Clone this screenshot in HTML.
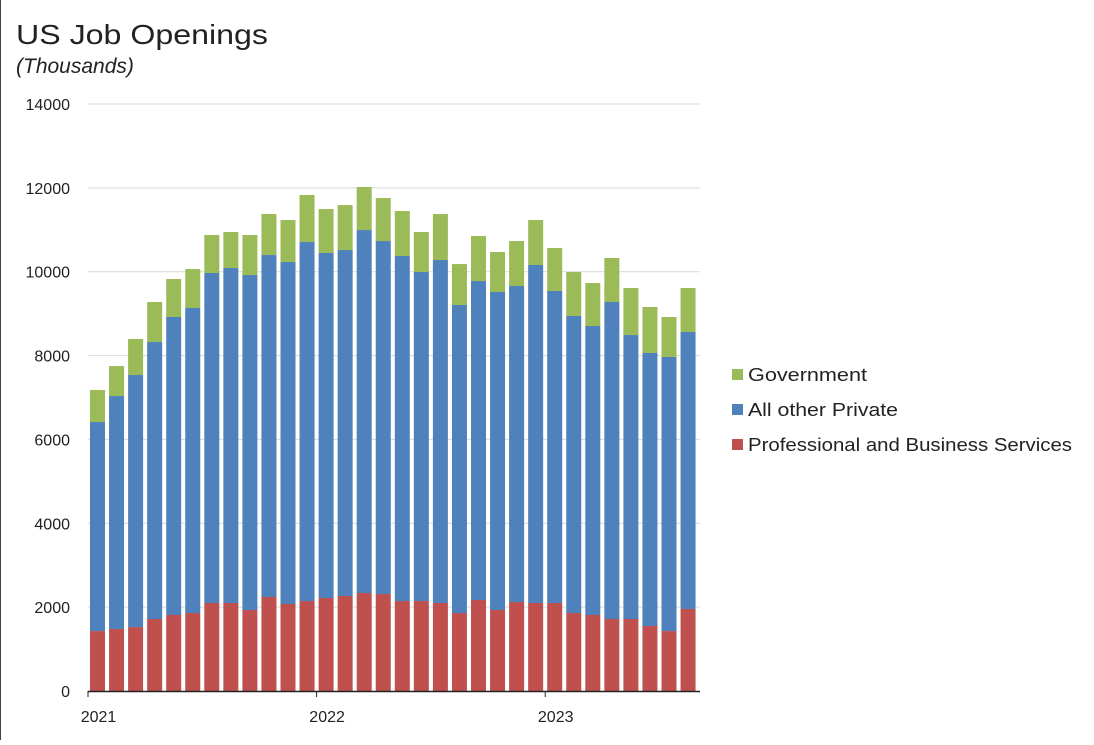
<!DOCTYPE html>
<html><head><meta charset="utf-8">
<style>
body{margin:0;background:#fff;width:1094px;height:740px;overflow:hidden;font-family:"Liberation Sans",sans-serif;}
svg text{font-family:"Liberation Sans",sans-serif;}
</style></head>
<body>
<svg id="chart" width="1094" height="740" xmlns="http://www.w3.org/2000/svg">
<line x1="0.5" y1="0" x2="0.5" y2="740" stroke="#444" stroke-width="1"/>
<text x="16" y="44" font-size="28" fill="#222" textLength="252" lengthAdjust="spacingAndGlyphs">US Job Openings</text>
<text x="16" y="73" font-size="21" font-style="italic" fill="#222">(Thousands)</text>
<g id="grid"></g><g id="bars"></g><g id="axes"></g>
<g>
<rect x="732" y="369" width="11" height="11" fill="#9bbb59"/>
<text x="748" y="381" font-size="18" fill="#222" textLength="119" lengthAdjust="spacingAndGlyphs">Government</text>
<rect x="732" y="404" width="11" height="11" fill="#4f81bd"/>
<text x="748" y="416" font-size="18" fill="#222" textLength="150" lengthAdjust="spacingAndGlyphs">All other Private</text>
<rect x="732" y="439" width="11" height="11" fill="#c0504d"/>
<text x="748" y="451" font-size="18" fill="#222" textLength="324" lengthAdjust="spacingAndGlyphs">Professional and Business Services</text>
</g>
</svg>
<script>
const totals=[7180,7750,8395,9277,9826,10064,10875,10947,10875,11376,11233,11829,11495,11590,12020,11757,11447,10947,11376,10183,10851,10470,10732,11233,10565,9993,9730,10327,9611,9158,8920,9611];
const privateTop=[6415,7035,7536,8323,8920,9134,9969,10088,9921,10398,10231,10708,10446,10517,10994,10732,10375,9993,10279,9206,9778,9516,9659,10160,9540,8944,8705,9278,8490,8061,7966,8562];
const professional=[1430,1480,1525,1717,1813,1860,2099,2099,1932,2242,2075,2146,2218,2266,2337,2313,2146,2146,2099,1860,2170,1932,2122,2099,2099,1860,1813,1717,1717,1550,1430,1956];
const yTicks=[0,2000,4000,6000,8000,10000,12000,14000];
const xLabels=[[0,"2021"],[12,"2022"],[24,"2023"]];
const NS="http://www.w3.org/2000/svg";
const y0=691,y1=104,yMax=14000,x0=88,x1=700;
const yS=v=>y0-(y0-y1)*v/yMax;
const bw=15;
const xS=i=>90+i*19.05;
function mk(tag,at,parent){const e=document.createElementNS(NS,tag);for(const k in at)e.setAttribute(k,at[k]);parent.appendChild(e);return e;}
const grid=document.getElementById('grid'),bars=document.getElementById('bars'),axes=document.getElementById('axes');
yTicks.forEach(t=>{
 if(t>0){const l=mk('line',{x1:x0,x2:x1,y1:yS(t),y2:yS(t),stroke:'#d9d9d9','stroke-width':1},grid);
 
 }
 const tx=mk('text',{x:70,y:yS(t)+6,'text-anchor':'end','font-size':16,fill:'#222'},axes);tx.textContent=t;
 
 
});
totals.forEach((tot,i)=>{
 const x=xS(i);
 const r=mk('rect',{x:x,y:yS(professional[i]),width:bw,height:y0-yS(professional[i]),fill:'#c0504d'},bars);
 
 
 const b=mk('rect',{x:x,y:yS(privateTop[i]),width:bw,height:yS(professional[i])-yS(privateTop[i]),fill:'#4f81bd'},bars);
 
 
 const g=mk('rect',{x:x,y:yS(tot),width:bw,height:yS(privateTop[i])-yS(tot),fill:'#9bbb59'},bars);
 
 
});
const ax=mk('line',{x1:x0,x2:x1,y1:y0+0.5,y2:y0+0.5,stroke:'#222','stroke-width':1.5},axes);


xLabels.forEach(([i,l])=>{
 const tk=mk('line',{x1:xS(i)-2,x2:xS(i)-2,y1:y0,y2:y0+6,stroke:'#222'},axes);
 
 
 const t=mk('text',{x:xS(i)+bw/2+1,y:722,'text-anchor':'middle','font-size':16,fill:'#222'},axes);t.textContent=l;
 
 
});
</script>
</body></html>
